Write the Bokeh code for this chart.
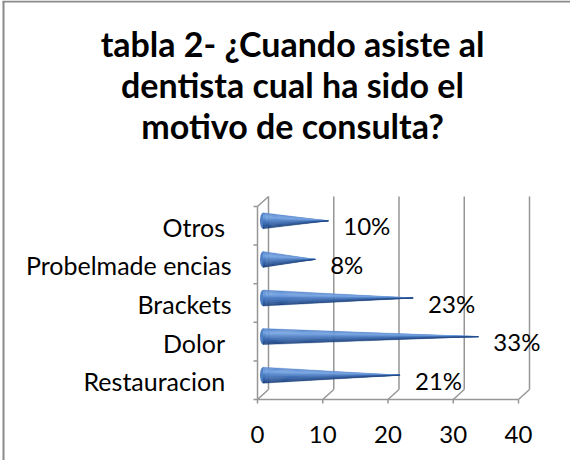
from bokeh.plotting import figure
from bokeh.models import Range1d
from bokeh.embed import file_html
from bokeh.resources import INLINE
from bokeh.core.properties import value

# ---- data ----
categories = ["Restauracion ", "Dolor ", "Brackets", "Probelmade encias", "Otros "]
values = [21, 33, 23, 8, 10]
pct_labels = ["21%", "33%", "23%", "8%", "10%"]
x_ticks = [0, 10, 20, 30, 40]
x_tick_labels = ["0", "10", "20", "30", "40"]
title_lines = ["tabla 2- \u00bfCuando asiste al", "dentista cual ha sido el", "motivo de consulta?"]

# ---- layout (canvas pixels) ----
W, H = 570, 460
FX0, FX1 = 257, 518      # front floor x span (px)
FY0, FY1 = 399, 206      # front floor y / front top y (px)
XMAX = 40
NCAT = len(categories)
sx = XMAX / (FX1 - FX0)
sy = NCAT / (FY0 - FY1)
xs_ = -FX0 * sx
xe_ = xs_ + W * sx
ye_ = FY0 * sy
ys_ = ye_ - H * sy

def cx(px):
    return xs_ + px * sx

def cy(py):
    return ye_ - py * sy

DX, DY = 11 * sx, 10 * sy      # depth of back wall
MX, MY = 5.5 * sx, 5 * sy      # mid depth (cones)

p = figure(width=W, height=H, output_backend="svg", toolbar_location=None,
           x_range=Range1d(xs_, xe_), y_range=Range1d(ys_, ye_),
           min_border=0, background_fill_color="white", border_fill_color="white")
p.axis.visible = False
p.grid.visible = False
p.outline_line_color = None

FONT = "Lato"
GRID = "#969696"

# chart border (left and top only visible)
p.line([cx(3), cx(3)], [cy(1), cy(H + 5)], line_color="#8a8a8a", line_width=2)
p.line([cx(2), cx(W + 5)], [cy(1), cy(1)], line_color="#8a8a8a", line_width=2)

# back wall gridlines and floor diagonals
for t in x_ticks:
    p.line([t + DX, t + DX], [DY, NCAT + DY], line_color=GRID, line_width=1.5)
    p.line([t, t + DX], [0, DY], line_color=GRID, line_width=1.5)
    p.line([t, t], [0, -4 * sy], line_color=GRID, line_width=1.5)
p.line([0, XMAX], [0, 0], line_color=GRID, line_width=1.5)
# left wall
p.line([0, 0], [0, NCAT], line_color=GRID, line_width=1.5)
p.line([0, DX], [NCAT, NCAT + DY], line_color=GRID, line_width=1.5)
for k in range(NCAT + 1):
    p.line([-4 * sx, 0], [k, k], line_color=GRID, line_width=1.5)

# cones
stops = [(0.0, (88, 134, 204)), (0.28, (120, 166, 228)), (0.5, (80, 128, 198)),
         (0.8, (48, 92, 160)), (1.0, (30, 66, 124))]

def col(f):
    for (f0, c0), (f1, c1) in zip(stops[:-1], stops[1:]):
        if f <= f1:
            u = (f - f0) / (f1 - f0) if f1 > f0 else 0
            c = [int(round(a + (b - a) * u)) for a, b in zip(c0, c1)]
            return "#%02x%02x%02x" % tuple(c)
    return "#%02x%02x%02x" % stops[-1][1]

NB = 14
HH = 8 * sy
bx, by, bc = [], [], []
ex, ey = [], []
for i, v in enumerate(values):
    yc = i + 0.5 + MY
    x0 = MX
    tip = v + MX
    ex.append(x0)
    ey.append(yc)
    for b in range(NB):
        ya = yc + HH - 2 * HH * b / NB
        yb = yc + HH - 2 * HH * (b + 1) / NB
        bx.append([x0, x0, tip])
        by.append([ya, yb, yc])
        bc.append(col((b + 0.5) / NB))
p.ellipse(ex, ey, width=6 * sx, height=2 * HH, fill_color="#4f80c4", line_color=None)
p.patches(bx, by, fill_color=bc, line_color=bc, line_width=0.4)

# percentage labels
p.text([v + MX for v in values], [i + 0.5 for i in range(NCAT)], text=pct_labels,
       x_offset=15, text_align="left", text_baseline="middle",
       text_font=value(FONT), text_font_size="24px", text_color="black")

# category labels
p.text([0] * NCAT, [i + 0.5 for i in range(NCAT)], text=categories,
       x_offset=-26, y_offset=1, text_align="right", text_baseline="middle",
       text_font=value(FONT), text_font_size="25px", text_color="black")

# x tick labels
p.text(x_ticks, [0] * len(x_ticks), text=x_tick_labels, y_offset=35,
       text_align="center", text_baseline="middle",
       text_font=value(FONT), text_font_size="24px", text_color="black")

# title
base_px = [43, 84, 125]
p.text([cx(292)] * 3, [cy(b) for b in base_px], text=title_lines,
       text_align="center", text_baseline="alphabetic",
       text_font=value(FONT), text_font_style="bold", text_font_size="34px",
       text_color="black")

open("out.html", "w").write(file_html(p, INLINE))
